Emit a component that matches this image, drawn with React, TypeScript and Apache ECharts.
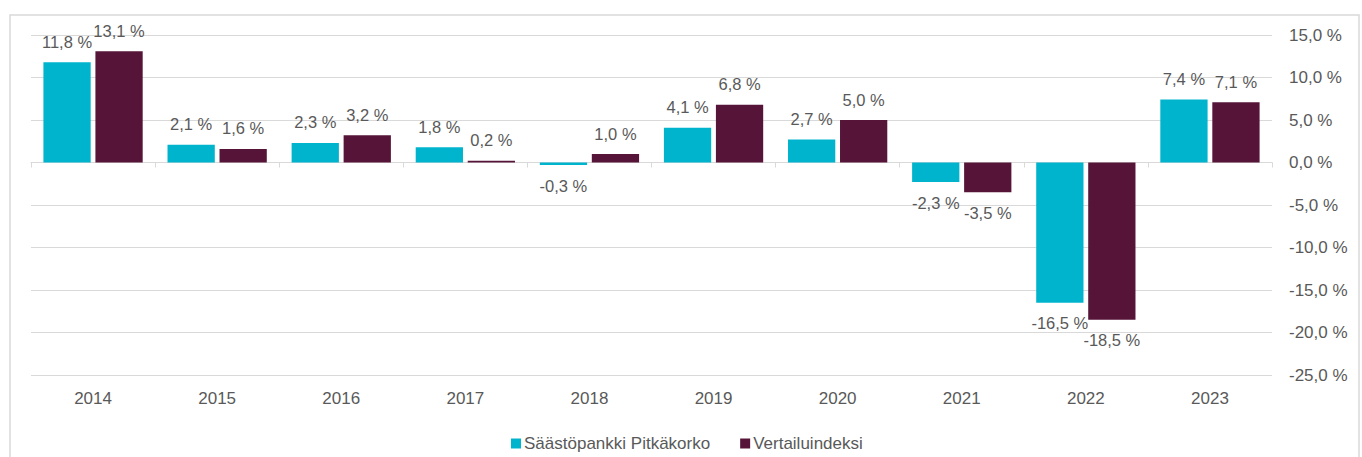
import React, { useEffect, useRef } from "react";
import * as echarts from "echarts";

const categories = ["2014", "2015", "2016", "2017", "2018", "2019", "2020", "2021", "2022", "2023"];
const seriesNames = ["Säästöpankki Pitkäkorko", "Vertailuindeksi"];
const pitkakorko = [11.8, 2.1, 2.3, 1.8, -0.3, 4.1, 2.7, -2.3, -16.5, 7.4];
const vertailu = [13.1, 1.6, 3.2, 0.2, 1.0, 6.8, 5.0, -3.5, -18.5, 7.1];
const colors = ["#00B4CE", "#561538"];

const fmt = (v: number) => v.toFixed(1).replace(".", ",") + " %";
const FONT = "Liberation Sans, Arial, sans-serif";
const TXT = "#595959";

export default function App() {
  const ref = useRef<HTMLDivElement>(null);
  useEffect(() => {
    if (!ref.current) return;
    const chart = echarts.init(ref.current, undefined, { renderer: "svg" });
    const mkData = (arr: number[]) =>
      arr.map((v) => ({
        value: v,
        label: { position: v < 0 ? "bottom" : "top" },
      }));
    const mkSeries = (name: string, arr: number[], color: string) => ({
      name,
      type: "bar",
      xAxisIndex: 0,
      data: mkData(arr),
      itemStyle: { color },
      barCategoryGap: "20%",
      barGap: "10%",
      label: {
        show: true,
        distance: 12,
        color: TXT,
        fontSize: 16.5,
        fontFamily: FONT,
        formatter: (p: any) => fmt(p.value),
      },
    });
    chart.setOption({
      animation: false,
      textStyle: { fontFamily: FONT },
      graphic: [
        {
          type: "rect",
          shape: { x: 10, y: 15, width: 1349, height: 460 },
          style: { fill: "none", stroke: "#d9d9d9", lineWidth: 1.5 },
          z: -1,
        },
      ],
      grid: { left: 31, right: 90, top: 35, bottom: 82, containLabel: false },
      legend: {
        data: seriesNames,
        left: 506,
        top: 430,
        itemWidth: 10,
        itemHeight: 10,
        itemGap: 30,
        icon: "rect",
        textStyle: { color: TXT, fontSize: 17, fontFamily: FONT, padding: [0, 0, 0, -2] },
      },
      xAxis: [
        {
          type: "category",
          data: categories,
          position: "bottom",
          axisLine: { show: false, onZero: false },
          axisTick: { show: false },
          axisLabel: { color: TXT, fontSize: 17, fontFamily: FONT, margin: 15 },
        },
        {
          type: "category",
          data: categories,
          position: "top",
          axisLine: { show: true, onZero: true, lineStyle: { color: "#d9d9d9", width: 1 } },
          axisTick: { show: true, inside: true, length: 5, lineStyle: { color: "#d9d9d9" } },
          axisLabel: { show: false },
        },
      ],
      yAxis: {
        type: "value",
        position: "right",
        min: -25,
        max: 15,
        interval: 5,
        axisLine: { show: false },
        axisTick: { show: false },
        splitLine: { lineStyle: { color: "#d9d9d9", width: 1 } },
        axisLabel: {
          color: TXT,
          fontSize: 17,
          fontFamily: FONT,
          margin: 17,
          formatter: (v: number) => fmt(v),
        },
      },
      series: [
        mkSeries(seriesNames[0], pitkakorko, colors[0]),
        mkSeries(seriesNames[1], vertailu, colors[1]),
      ],
    });
    return () => chart.dispose();
  }, []);
  return (
    <div
      ref={ref}
      style={{ position: "fixed", left: 0, top: 0, width: 1362, height: 457, background: "#fff" }}
    />
  );
}
